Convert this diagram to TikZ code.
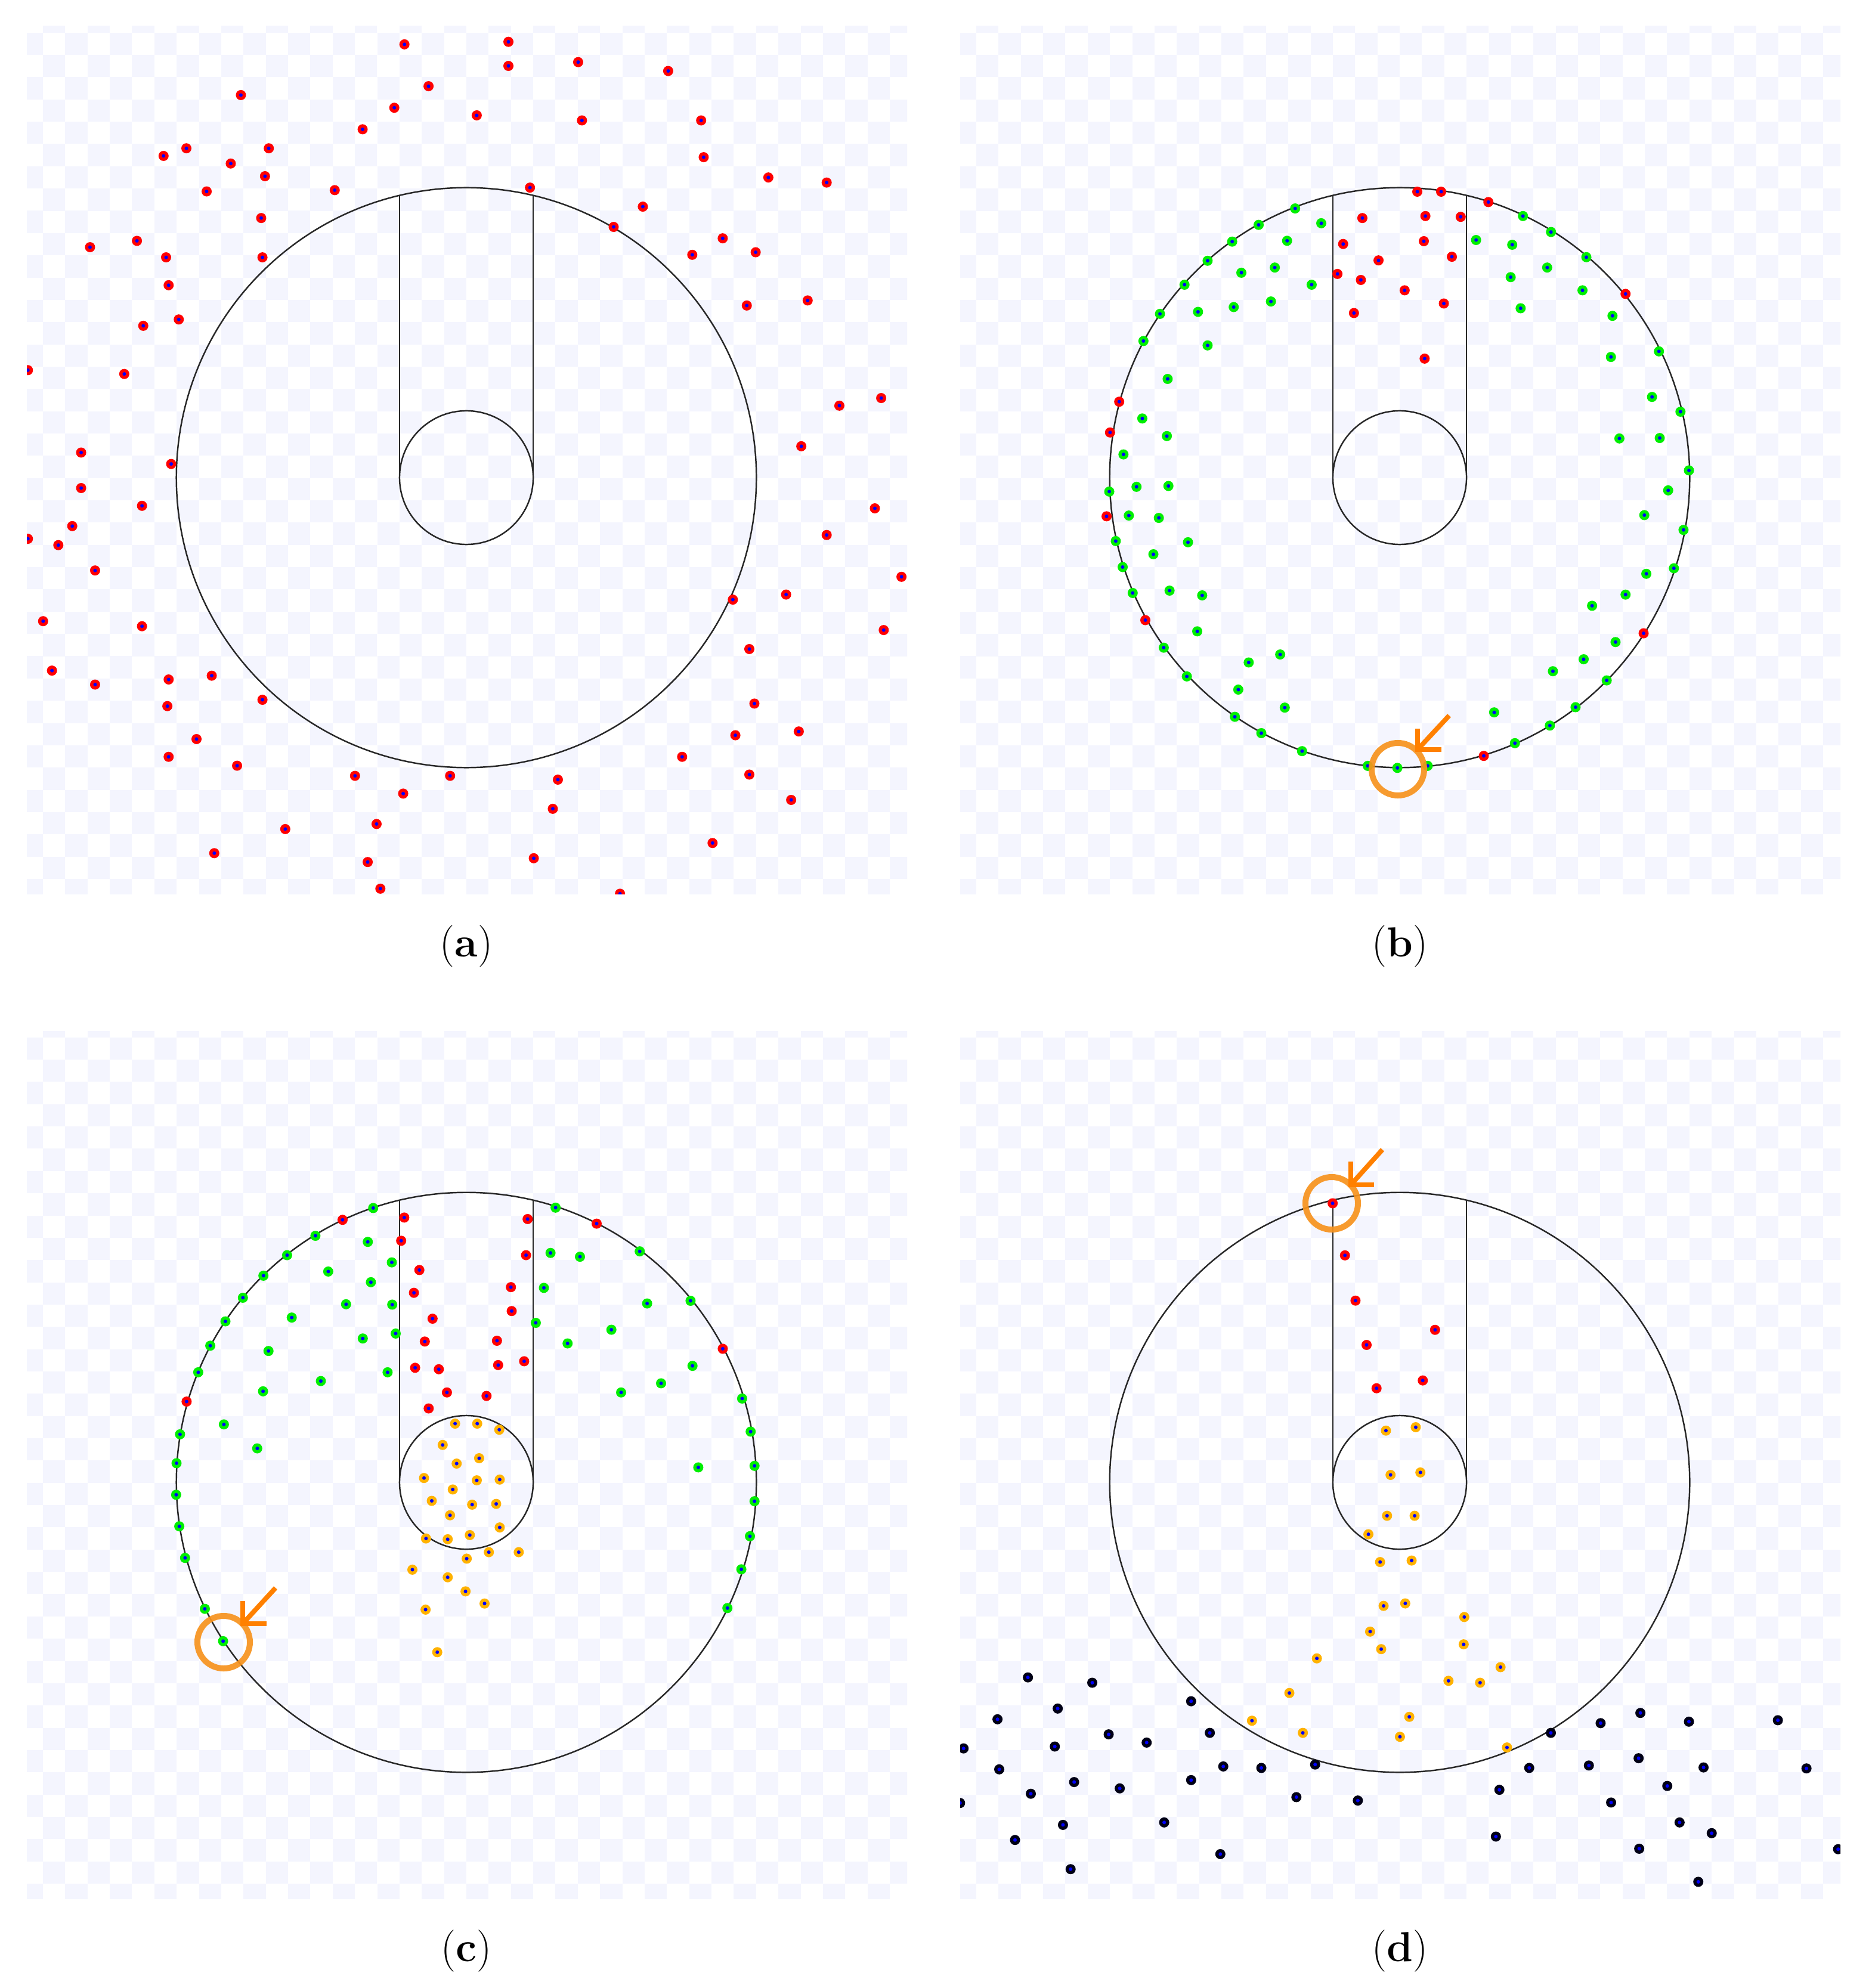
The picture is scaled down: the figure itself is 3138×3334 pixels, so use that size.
\documentclass[tikz,border=0pt]{standalone}
\definecolor{chk}{RGB}{244,245,254}
\definecolor{dred}{RGB}{255,0,0}
\definecolor{dgreen}{RGB}{0,238,0}
\definecolor{dorange}{RGB}{255,178,0}
\definecolor{dnavy}{RGB}{0,0,22}
\definecolor{dcore}{RGB}{0,0,255}
\definecolor{ringc}{RGB}{247,147,30}
\definecolor{arrowc}{RGB}{255,128,0}
\definecolor{geoc}{RGB}{40,40,40}
\newcommand\checker[2]{%
 \begin{scope}[shift={(#1,#2)}]
 \clip (0,0) rectangle (1476,1455);
 \foreach \j in {-1,...,38}{
   \pgfmathsetmacro\yy{10.7+(\j+0.5)*37.35}
   \pgfmathsetmacro\xs{-85.2+mod(\j+2,2)*37.35}
   \draw[chkline] (\xs,\yy) -- (1560,\yy);
 }
 \end{scope}}
\newcommand\drawgeo[2]{%
 \draw[geo] (#1,#2) circle[radius=4.86cm];
 \draw[geo] (#1,#2) circle[radius=1.12cm];
 \draw[geo] ({#1-112},#2) -- ({#1-112},{#2-472.9});
 \draw[geo] ({#1+112},#2) -- ({#1+112},{#2-472.9});}
\newcommand\pdots[2]{\foreach \x/\y in {#2}{\fill[#1] (\x,\y) circle[radius=0.085cm];
 \fill[dcore] (\x,\y) circle[radius=0.03cm];}}
\newcommand\pdotsS[2]{\foreach \x/\y in {#2}{\fill[#1] ({2.126*\x},{2.126*\y}) circle[radius=0.085cm];
 \fill[dcore] ({2.126*\x},{2.126*\y}) circle[radius=0.03cm];}}
\begin{document}
\begin{tikzpicture}[x=0.01cm,y=-0.01cm,
  chkline/.style={draw=chk,line width=0.3735cm,dash pattern=on 0.3735cm off 0.3735cm},
  geo/.style={draw=geoc,line width=0.7pt},
  hring/.style={draw=ringc,line width=0.1cm,opacity=0.92},
  harrow/.style={draw=arrowc,line width=0.08cm,line join=miter},
  captext/.style={inner sep=0pt,font=\fontsize{20}{24}\selectfont}]
\useasboundingbox (0,0) rectangle (3138,3334);
\fill[white] (0,0) rectangle (3138,3334);
% checker backgrounds
\checker{45}{44}
\checker{1610}{44}
\checker{45}{1729}
\checker{1610}{1729}
% geometry
\drawgeo{782}{801}
\drawgeo{2347}{801}
\drawgeo{782}{2486}
\drawgeo{2347}{2486}
% panel (a)
\begin{scope}
\clip (45,44) rectangle ++(1476,1455);
\pdotsS{dred}{319/35, 401/33, 401/52, 456/49, 527/56, 338/68, 190/75, 311/85, 376/91, 459/95, 553/95, 286/102, 129/123, 147/117, 182/129, 212/117, 209/139, 555/124, 606/140, 652/144, 163/151, 264/150, 418/148, 507/163, 206/172, 484/179, 108/190, 71/195, 131/203, 207/203, 570/188, 546/201, 596/199, 133/225, 141/252, 113/257, 589/241, 637/237, 22/292, 98/295, 662/320, 695/314, 632/352, 64/357, 64/385, 135/366, 112/399, 57/415, 46/430, 22/425, 690/401, 652/422, 75/450, 711/455, 578/473, 620/469, 34/490, 112/494, 697/497, 591/512, 41/529, 75/540, 133/536, 167/533, 132/557, 207/552, 595/555, 133/597, 155/583, 187/604, 580/580, 630/577, 538/597, 591/611, 280/612, 355/612, 318/626, 440/615, 436/638, 624/631, 225/654, 297/650, 169/673, 421/677, 562/665, 290/680, 300/701, 489/705}
\end{scope}
% panel (b)
\begin{scope}
\clip (1610,44) rectangle ++(1476,1455);
\pdots{dgreen}{2171.7/349.6, 2110.5/377.1, 2215.5/374.4, 2066.1/405.2, 2158.2/403.8, 2024.9/437.3, 2081.5/457.4, 2137.6/448.7, 1986.2/477.5, 2199.4/477.5, 1945.0/526.4, 2008.8/523.0, 2068.7/515.0, 2131.1/505.6, 1917.3/571.9, 2024.9/579.3, 1957.9/635.5, 1915.4/701.8, 1956.6/731.3, 1883.8/762.1, 1905.7/816.4, 1959.2/815.0, 1860.0/824.4, 1892.8/864.6, 1943.1/868.6, 1870.9/907.4, 1992.0/909.4, 1934.0/929.5, 1882.5/951.0, 1899.3/994.5, 1961.1/990.5, 2015.8/998.5, 2007.5/1058.8, 1951.4/1086.2, 2093.8/1111.0, 2146.6/1097.6, 1990.1/1134.4, 2076.4/1156.5, 2154.3/1186.7, 2070.6/1202.1, 2115.0/1229.5, 2183.3/1259.7, 2293.5/1284.4, 2343.1/1287.8, 2393.9/1284.4, 2505.4/1194.7, 2540.2/1246.3, 2598.8/1216.8, 2641.9/1186.0, 2603.9/1125.7, 2655.5/1105.6, 2694.1/1141.1, 2708.9/1076.8, 2669.6/1015.9, 2725.7/997.2, 2760.5/962.3, 2806.8/953.0, 2822.9/888.7, 2757.2/863.9, 2797.2/822.4, 2832.0/788.9, 2715.4/735.3, 2783.0/734.6, 2817.8/690.5, 2770.1/665.7, 2781.7/589.3, 2701.2/598.7, 2703.8/529.7, 2653.5/486.9, 2549.8/517.0, 2533.1/464.8, 2594.3/448.7, 2660.0/431.3, 2600.7/389.1, 2535.7/410.5, 2475.1/402.5, 2553.7/362.3}
\pdots{dred}{2376.5/321.5, 2416.5/321.5, 2495.7/338.9, 2284.4/365.7, 2390.1/362.3, 2449.3/363.7, 2252.2/409.2, 2387.5/404.5, 2434.5/430.6, 2311.5/436.7, 2242.6/459.4, 2281.9/469.5, 2355.3/486.9, 2421.0/509.0, 2270.3/525.0, 2388.8/601.4, 2725.7/492.9, 1876.7/673.7, 1861.3/725.3, 1855.5/865.9, 1920.5/1040.0, 2756.0/1062.1, 2488.0/1267.7}
\draw[hring] (2344,1290) circle[radius=0.44cm];
\draw[harrow] (2430,1200) -- (2377,1257);
\draw[harrow] (2377,1222) -- (2377,1257) -- (2417,1257);
\end{scope}
% panel (c)
\begin{scope}
\clip (45,1729) rectangle ++(1476,1455);
\pdots{dgreen}{625.8/2025.9, 528.9/2072.5, 616.7/2082.7, 481.4/2105.0, 657.0/2117.1, 441.7/2139.4, 550.4/2132.4, 621.9/2150.3, 407.3/2176.4, 580.3/2187.3, 657.7/2187.9, 378.0/2216.0, 489.2/2209.6, 663.5/2236.4, 608.3/2244.7, 352.6/2256.8, 450.2/2265.7, 332.4/2301.4, 649.9/2301.4, 538.0/2316.1, 441.1/2333.3, 375.4/2388.8, 301.9/2405.4, 431.3/2429.0, 296.0/2453.9, 295.4/2506.8, 300.6/2559.7, 310.3/2612.7, 343.5/2698.1, 374.1/2752.3, 931.6/2025.3, 923.1/2101.2, 972.5/2107.6, 912.0/2159.8, 898.4/2218.5, 951.7/2253.0, 1025.2/2230.0, 1072.7/2098.6, 1085.1/2186.0, 1157.9/2181.5, 1161.2/2290.6, 1108.5/2319.9, 1041.5/2335.2, 1244.4/2345.4, 1258.7/2400.9, 1265.2/2458.3, 1170.9/2460.9, 1265.2/2517.6, 1257.5/2576.3, 1243.1/2631.8, 1219.7/2696.8}
\pdots{dred}{574.4/2045.7, 677.9/2041.9, 672.7/2080.8, 884.7/2044.4, 882.1/2105.0, 1000.5/2052.1, 703.2/2129.9, 694.1/2168.1, 856.7/2158.6, 858.0/2198.7, 725.3/2211.5, 712.3/2249.8, 833.3/2248.5, 696.1/2293.8, 735.8/2296.3, 835.3/2289.3, 878.9/2282.9, 749.4/2335.2, 815.8/2341.0, 718.8/2362.0, 1211.9/2261.9, 312.9/2350.5}
\pdots{dorange}{763.1/2387.5, 800.2/2387.5, 837.2/2397.7, 742.3/2423.2, 803.4/2445.5, 765.7/2454.5, 711.0/2478.7, 799.5/2482.6, 837.9/2481.3, 759.2/2497.9, 724.0/2517.0, 791.7/2523.4, 832.0/2522.1, 754.6/2541.2, 837.9/2561.6, 714.3/2580.1, 750.7/2581.4, 787.8/2574.4, 782.6/2613.9, 819.7/2603.1, 869.8/2603.1, 691.5/2632.4, 750.7/2645.2, 780.6/2668.8, 812.5/2689.2, 713.6/2699.4, 733.2/2770.8}
\draw[hring] (375,2754) circle[radius=0.44cm];
\draw[harrow] (462,2663) -- (407,2723);
\draw[harrow] (407,2685) -- (407,2723) -- (447,2723);
\end{scope}
% panel (d)
\begin{scope}
\clip (1610,1729) rectangle ++(1476,1455);
\pdots{dred}{2234.6/2018.0, 2255.2/2105.3, 2272.9/2181.2, 2291.5/2255.5, 2308.2/2328.2, 2406.3/2230.2, 2385.7/2315.1}
\pdots{dorange}{2323.9/2399.2, 2373.9/2393.5, 2331.7/2473.5, 2381.7/2469.4, 2325.8/2542.0, 2372.0/2542.0, 2294.5/2573.1, 2314.1/2619.6, 2367.0/2617.1, 2320.0/2693.1, 2356.3/2689.0, 2455.3/2711.8, 2297.4/2736.3, 2454.3/2757.6, 2316.0/2765.7, 2208.1/2781.2, 2516.1/2795.9, 2428.8/2818.8, 2481.8/2822.0, 2162.0/2839.2, 2099.3/2885.7, 2184.6/2906.1, 2363.1/2879.2, 2347.4/2912.7, 2526.9/2930.6}
\pdots{dnavy}{1723.6/2813.1, 1831.5/2822.0, 1773.6/2865.3, 1997.3/2853.1, 1672.6/2883.3, 1859.0/2908.6, 1768.7/2929.0, 1922.7/2922.4, 2028.6/2906.1, 1615.7/2932.2, 1675.5/2967.3, 2051.2/2962.4, 2115.0/2964.9, 2205.2/2959.2, 1801.1/2988.6, 1877.6/2999.2, 1997.3/2985.3, 1728.5/3008.2, 1609.8/3023.7, 2173.8/3013.9, 2276.8/3019.6, 1782.4/3060.4, 1952.1/3056.3, 1702.0/3085.7, 2046.3/3109.4, 1795.2/3134.7, 2600.5/2906.1, 2683.9/2889.8, 2750.6/2872.7, 2832.0/2887.3, 2981.1/2884.9, 2564.2/2964.9, 2664.2/2960.8, 2747.6/2948.6, 2856.5/2964.1, 3029.1/2965.7, 2514.2/3001.6, 2795.7/2995.1, 2701.5/3022.9, 2816.3/3056.3, 2870.2/3074.3, 2508.3/3080.0, 2748.6/3100.4, 3082.1/3101.2, 2847.7/3155.9}
\draw[hring] (2233,2018) circle[radius=0.44cm];
\draw[harrow] (2318,1928) -- (2265,1987);
\draw[harrow] (2265,1948) -- (2265,1987) -- (2304,1987);
\end{scope}
% captions
\node[captext] (capa) at (782,1587) {(\textbf{a})};
\node[captext] (capb) at (2347,1587) {(\textbf{b})};
\node[captext] (capc) at (782,3272) {(\textbf{c})};
\node[captext] (capd) at (2347,3272) {(\textbf{d})};
\end{tikzpicture}
\end{document}
